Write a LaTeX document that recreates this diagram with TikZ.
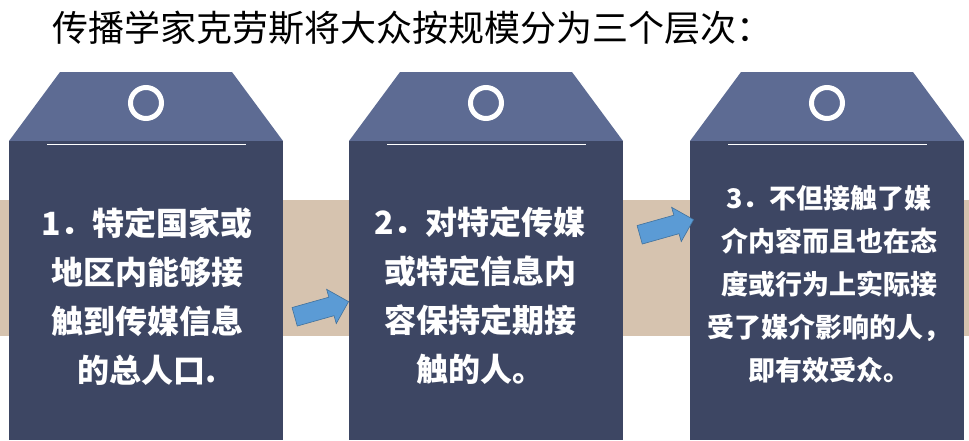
\documentclass[tikz,border=0pt]{standalone}
\usepackage{fontspec}
\newfontfamily\cjk{Noto Sans CJK SC}
\usetikzlibrary{shapes.arrows}
\definecolor{tagtopcol}{HTML}{5D6B93}
\definecolor{tagbodycol}{HTML}{3D4663}
\definecolor{bandcol}{HTML}{D6C3AF}
\definecolor{arrowcol}{HTML}{5B9BD5}
\definecolor{arrowedge}{HTML}{41719C}
\tikzstyle{tag top}=[fill=tagtopcol]
\tikzstyle{tag body}=[fill=tagbodycol, inner sep=0, minimum width=274, minimum height=299, anchor=north west]
\tikzstyle{tag hole}=[draw=white, line width=5]
\tikzstyle{tag rule}=[draw=white, line width=1]
\tikzstyle{tag text}=[text=white, align=center, font=\cjk\bfseries\fontsize{32}{49}\selectfont]
\tikzstyle{step arrow}=[single arrow, fill=arrowcol, draw=arrowedge, line width=0.6, inner sep=0,
  minimum height=56, single arrow head extend=8.2, rotate=15.7]

\begin{document}
\begin{tikzpicture}[x=1pt, y=-1pt]
          \useasboundingbox (0, 0) rectangle (969, 440);

          % band behind the tags
          \fill[bandcol] (0, 200) rectangle (969, 336);

          \node[anchor=west, inner sep=0, font=\cjk\fontsize{36}{40}\selectfont]
            (title) at (52, 28) {传播学家克劳斯将大众按规模分为三个层次：};

          % first tag
          \fill[tag top] (60, 72) -- (232, 72) -- (283, 141) -- (9, 141) -- cycle;
          \node[tag body] (bodyA) at (9, 141) {};
          \draw[tag hole] (146, 103) circle (15.5);
          \draw[tag rule] (47, 144) -- (246, 144);
          \node[tag text] (textA) at (147, 297)
            {1．特定国家或\\地区内能够接\\触到传媒信息\\的总人口.};

          % second tag
          \fill[tag top] (400, 72) -- (572, 72) -- (623, 141) -- (349, 141) -- cycle;
          \node[tag body] (bodyB) at (349, 141) {};
          \draw[tag hole] (486, 103) circle (15.5);
          \draw[tag rule] (387, 144) -- (586, 144);
          \node[tag text] (textB) at (480, 296)
            {2．对特定传媒\\或特定信息内\\容保持定期接\\触的人。};

          % third tag
          \fill[tag top] (741, 72) -- (913, 72) -- (964, 141) -- (690, 141) -- cycle;
          \node[tag body] (bodyC) at (690, 141) {};
          \draw[tag hole] (827, 103) circle (15.5);
          \draw[tag rule] (728, 144) -- (927, 144);
          \node[tag text, font=\cjk\bfseries\fontsize{27}{43}\selectfont] (textC) at (829, 284)
            {3．不但接触了媒\\介内容而且也在态\\度或行为上实际接\\受了媒介影响的人，\\即有效受众。};

          \node[step arrow] (arrowA) at (317, 310.5) {\rule{0pt}{18.6pt}};
          \node[step arrow] (arrowB) at (662, 228.5) {\rule{0pt}{18.6pt}};
        \end{tikzpicture}
\end{document}
